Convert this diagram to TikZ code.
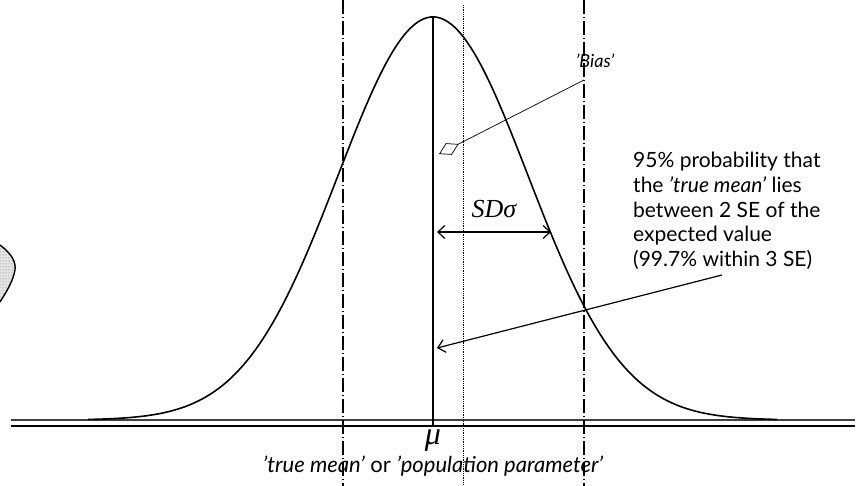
\documentclass[tikz,border=0pt]{standalone}
\usepackage{fontspec}
\setmainfont{Lato}
\newfontfamily\symbfont{Liberation Serif}
\usetikzlibrary{arrows.meta, patterns, positioning}

\begin{document}
\begin{tikzpicture}[x=1pt, y=-1pt,
    curve/.style={line width=1.6pt},
    limit/.style={line width=1.5pt, dash pattern=on 14pt off 3pt on 1pt off 3pt},
    label/.style={font=\fontsize{21}{24.7}\selectfont, inner sep=0pt},
    symb/.style={inner sep=0pt, font=\symbfont\itshape\fontsize{#1}{#1}\selectfont},
    barb/.style={-{Straight Barb[length=7pt,width=13pt]}, line width=1.2pt}]
    \useasboundingbox (0,0) rectangle (866,486);

    % Blob at the left border
    \fill[gray!20] (0,245) .. controls (12,254) and (16,262) .. (15,270)
        .. controls (13,282) and (5,294) .. (0,302) -- cycle;
    \fill[pattern=dots, pattern color=gray!80!black] (0,245) .. controls (12,254) and (16,262) .. (15,270)
        .. controls (13,282) and (5,294) .. (0,302) -- cycle;
    \draw[line width=1.4pt] (0,245) .. controls (12,254) and (16,262) .. (15,270)
        .. controls (13,282) and (5,294) .. (0,302);

    % Axis: two lines
    \draw[line width=1.6pt, black!75] (11,420) -- (855,420);
    \draw[line width=2pt] (11,426) -- (855,426);

    % Normal curve
    \draw[curve, domain=88:777, samples=200, smooth]
        plot (\x, {420 - 403*exp(-0.5*((\x-433)/95)^2)});

    % Limits and mean lines
    \draw[limit] (343,0) -- (343,486);
    \draw[limit] (584,0) -- (584,486);
    \draw[densely dotted, line width=0.8pt] (463,5) -- (463,486);
    \coordinate (peak) at (433,17);
    \coordinate (base) at (433,426);
    \draw[line width=1.6pt] (peak) -- (base);

    % Bias label
    \node[inner sep=0pt, font=\fontsize{18}{20}\selectfont\itshape] (bias) at (595,61) {'Bias'};
    \coordinate (biasfoot) at (584,80);
    \coordinate (biastip) at (439,154);
    \draw[-{Diamond[open,length=22pt,width=13pt]}, line width=0.7pt] (biasfoot) -- (biastip);

    % SD arrow
    \coordinate (sdleft) at (437,232);
    \coordinate (sdright) at (551,232);
    \draw[{Straight Barb[length=7pt,width=13pt]}-{Straight Barb[length=7pt,width=13pt]}, line width=1.2pt]
        (sdleft) -- (sdright);
    \node[symb=26] (sd) at (494,209) {SDσ};

    % Probability text
    \node[label, anchor=north west, align=left] (prob) at (633,152)
        {95\% probability that\\the \textit{'true mean'} lies\\between 2 SE of the\\expected value\\(99.7\% within 3 SE)};
    \coordinate (probfoot) at (722,275);
    \coordinate (probtip) at (437,348);
    \draw[barb] (probfoot) -- (probtip);

    % Labels under the axis
    \node[symb=32] (mu) at (433,441) {μ};
    \node[label, font=\fontsize{22}{24}\selectfont, below=4pt of mu] (param)
        {\textit{'true mean'} or \textit{'population parameter'}};
\end{tikzpicture}
\end{document}
